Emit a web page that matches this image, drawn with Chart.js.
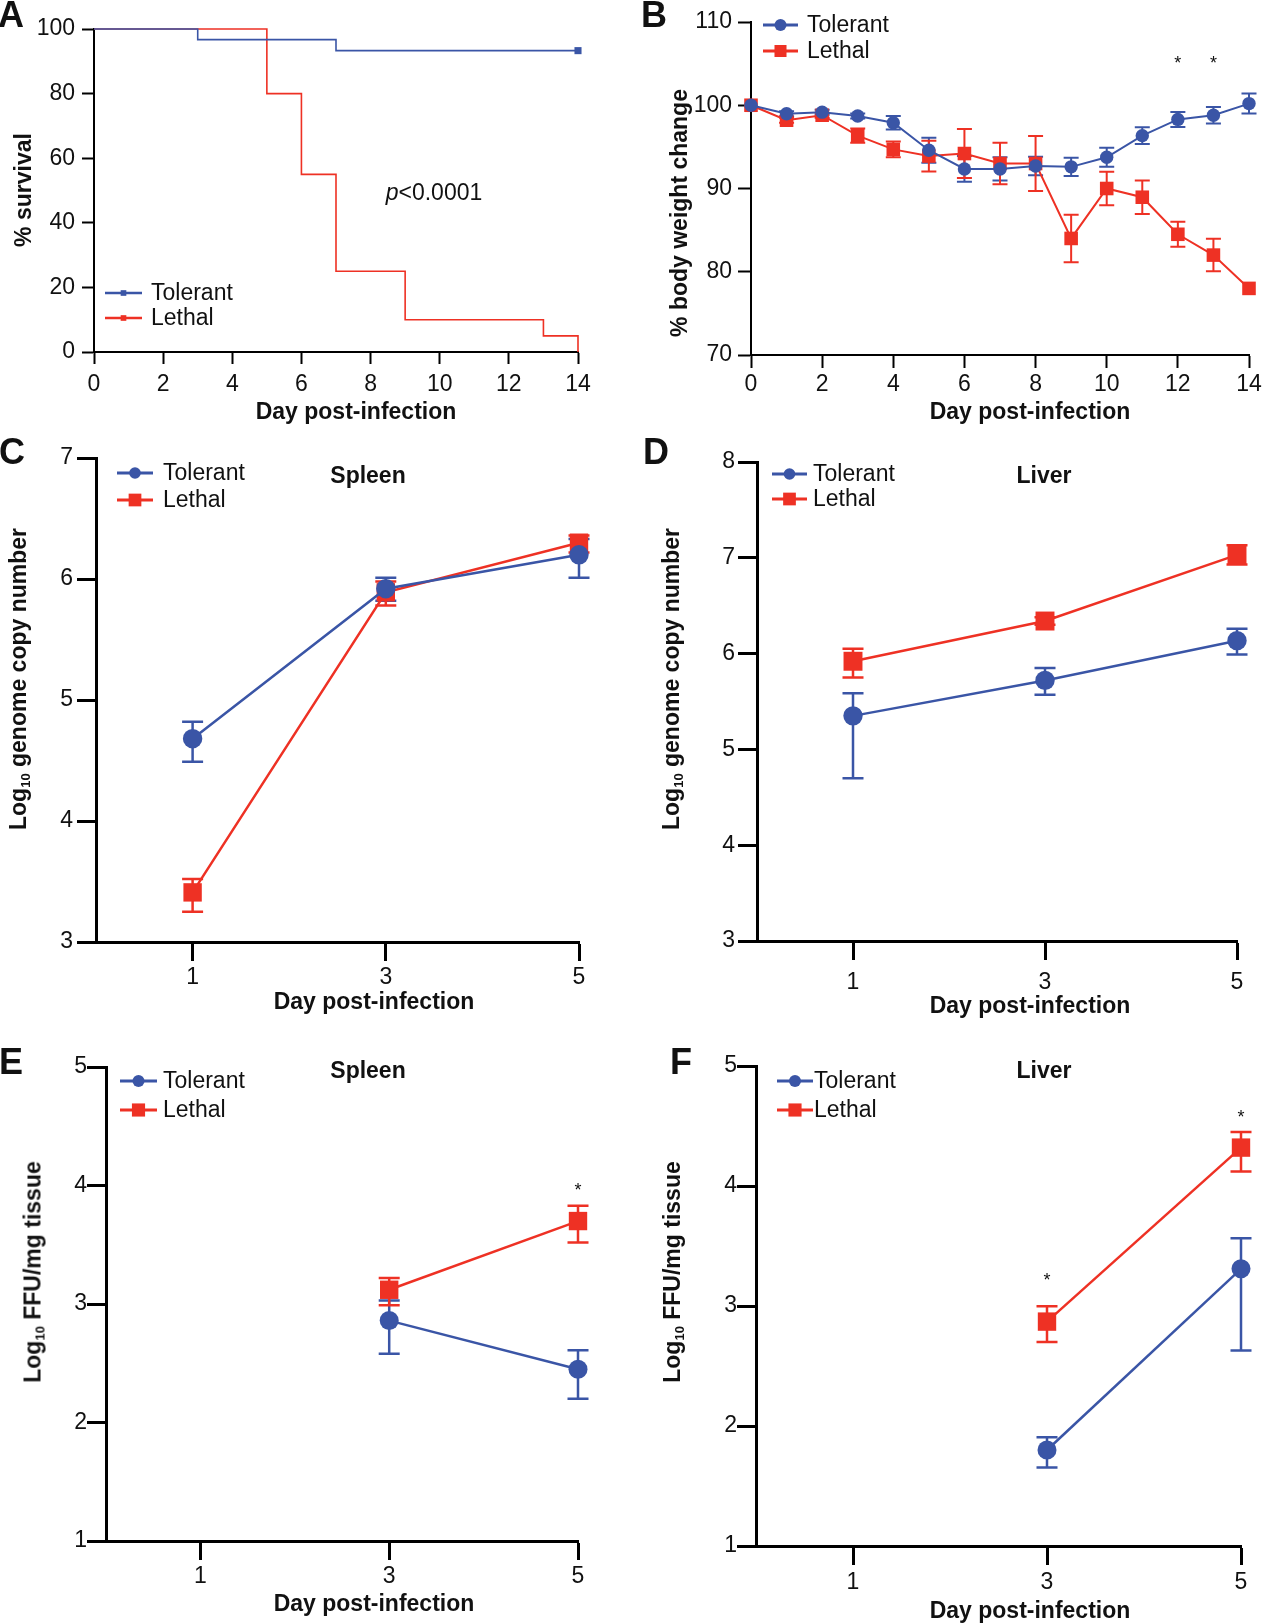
<!DOCTYPE html>
<html>
<head>
<meta charset="utf-8">
<script src="https://cdn.jsdelivr.net/npm/chart.js@4.4.0/dist/chart.umd.min.js"></script>
<style>
  body { margin: 0; background: #fff; }
  #fig { position: relative; width: 1266px; height: 1624px; overflow: hidden;
         font-family: 'Liberation Sans', Arial, sans-serif; color: #111; }
  #fig canvas { position: absolute; left: 0; top: 0; }
  .t { position: absolute; transform: translate(-50%, -50%); white-space: nowrap; line-height: 1; }
  .letter { font-weight: bold; font-size: 36px; }
  .xt, .org { font-weight: bold; font-size: 23px; }
  .yt { font-weight: bold; font-size: 23px; transform: translate(-50%, -50%) rotate(-90deg); }
  .yt sub { font-size: 13px; vertical-align: -4px; line-height: 0; }
  .pv { font-size: 23px; }
</style>
</head>
<body>
<div id="fig">
  <canvas id="chartA" width="1266" height="1624"></canvas>
  <canvas id="chartB" width="1266" height="1624"></canvas>
  <canvas id="chartC" width="1266" height="1624"></canvas>
  <canvas id="chartD" width="1266" height="1624"></canvas>
  <canvas id="chartE" width="1266" height="1624"></canvas>
  <canvas id="chartF" width="1266" height="1624"></canvas>

  <div class="t letter" style="left:11px;top:15px">A</div>
  <div class="t letter" style="left:654px;top:15px">B</div>
  <div class="t letter" style="left:12px;top:452px">C</div>
  <div class="t letter" style="left:656px;top:452px">D</div>
  <div class="t letter" style="left:11px;top:1062px">E</div>
  <div class="t letter" style="left:681px;top:1062px">F</div>

  <div class="t xt" style="left:356px;top:411px">Day post-infection</div>
  <div class="t xt" style="left:1030px;top:411px">Day post-infection</div>
  <div class="t xt" style="left:374px;top:1001px">Day post-infection</div>
  <div class="t xt" style="left:1030px;top:1005px">Day post-infection</div>
  <div class="t xt" style="left:374px;top:1603px">Day post-infection</div>
  <div class="t xt" style="left:1030px;top:1610px">Day post-infection</div>

  <div class="t yt" style="left:23px;top:190px">% survival</div>
  <div class="t yt" style="left:679px;top:213px">% body weight change</div>
  <div class="t yt" style="left:18px;top:679px">Log<sub>10</sub> genome copy number</div>
  <div class="t yt" style="left:671px;top:679px">Log<sub>10</sub> genome copy number</div>
  <div class="t yt" style="left:33px;top:1272px">Log<sub>10</sub> FFU/mg tissue</div>
  <div class="t yt" style="left:672px;top:1272px">Log<sub>10</sub> FFU/mg tissue</div>

  <div class="t pv" style="left:434px;top:192px"><i>p</i>&lt;0.0001</div>
  <div class="t org" style="left:368px;top:475px">Spleen</div>
  <div class="t org" style="left:1044px;top:475px">Liver</div>
  <div class="t org" style="left:368px;top:1070px">Spleen</div>
  <div class="t org" style="left:1044px;top:1070px">Liver</div>
</div>

<script>
// ---- data ----
const survivalDaysTolerant = [0, 3, 7, 14];
const survivalTolerant = [100, 96.7, 93.3, 93.3];
const survivalDaysLethal = [0, 5, 6, 7, 9, 13, 14];
const survivalLethal = [100, 80, 55, 25, 10, 5, 0];

const weightDays = [0, 1, 2, 3, 4, 5, 6, 7, 8, 9, 10, 11, 12, 13, 14];
const weightTolerant = [100, 98.97, 99.17, 98.7, 97.9, 94.6, 92.35, 92.35, 92.7, 92.6, 93.75, 96.35, 98.3, 98.8, 100.2];
const weightTolerantSem = [0, 0.3, 0.3, 0.3, 0.8, 1.5, 1.55, 1.4, 1.1, 1.1, 1.15, 1.0, 0.9, 1.0, 1.2];
const weightLethal = [100, 98.2, 98.8, 96.35, 94.7, 93.9, 94.2, 93.0, 93.0, 84.0, 90.0, 88.95, 84.5, 82.0, 78.0];
const weightLethalSem = [0, 0.3, 0.3, 0.85, 0.95, 1.85, 2.95, 2.5, 3.3, 2.85, 2.0, 2.0, 1.5, 1.95, 0];
const weightStarDays = [12, 13];
const weightStarLevel = [105.5, 105.5];

const organDays = [1, 3, 5];
const spleenGenomeTolerant = [4.68, 5.92, 6.2];
const spleenGenomeTolerantLow = [4.49, 5.82, 6.01];
const spleenGenomeTolerantHigh = [4.82, 6.01, 6.33];
const spleenGenomeLethal = [3.41, 5.89, 6.3];
const spleenGenomeLethalLow = [3.25, 5.78, 6.22];
const spleenGenomeLethalHigh = [3.52, 5.98, 6.36];

const liverGenomeTolerant = [5.35, 5.72, 6.135];
const liverGenomeTolerantLow = [4.70, 5.57, 5.99];
const liverGenomeTolerantHigh = [5.585, 5.85, 6.26];
const liverGenomeLethal = [5.92, 6.34, 7.03];
const liverGenomeLethalLow = [5.75, 6.30, 6.93];
const liverGenomeLethalHigh = [6.05, 6.38, 7.13];

const ffuDays = [3, 5];
const spleenFfuTolerant = [2.86, 2.45];
const spleenFfuTolerantLow = [2.58, 2.20];
const spleenFfuTolerantHigh = [3.03, 2.61];
const spleenFfuLethal = [3.12, 3.70];
const spleenFfuLethalLow = [2.99, 3.52];
const spleenFfuLethalHigh = [3.22, 3.83];
const spleenFfuStarDays = [5];
const spleenFfuStarLevel = [4.0];

const liverFfuTolerant = [1.80, 3.31];
const liverFfuTolerantLow = [1.655, 2.63];
const liverFfuTolerantHigh = [1.906, 3.565];
const liverFfuLethal = [2.87, 4.32];
const liverFfuLethalLow = [2.70, 4.12];
const liverFfuLethalHigh = [2.997, 4.45];
const liverFfuStarDays = [3, 5];
const liverFfuStarLevel = [3.25, 4.61];

const dayTicks = [1, 3, 5];

// ---- styling ----
const BLUE = '#3a55a6';
const RED = '#ee3124';
const INK = '#111';
const PAGE_W = 1266, PAGE_H = 1624;
const FONT = "'Liberation Sans', Arial, sans-serif";

Chart.defaults.font.family = FONT;
Chart.defaults.color = INK;

const toXY = (xs, ys) => xs.map((x, i) => ({ x: x, y: ys[i] }));

// vertical error bars with caps, placed through the chart's own scales
const errorBarPlugin = {
    id: 'errorBars',
    beforeDatasetsDraw(chart, args, opts) {
        const ctx = chart.ctx;
        const xs = chart.scales.x, ys = chart.scales.y;
        chart.data.datasets.forEach(ds => {
            if (!ds.errLow) return;
            ctx.save();
            ctx.strokeStyle = ds.borderColor;
            ctx.lineWidth = opts.width || 2;
            ds.data.forEach((p, j) => {
                const lo = ds.errLow[j], hi = ds.errHigh[j];
                if (lo === hi) return;
                const x = xs.getPixelForValue(p.x);
                const yl = ys.getPixelForValue(lo), yh = ys.getPixelForValue(hi);
                const c = opts.cap || 7;
                ctx.beginPath();
                ctx.moveTo(x, yl); ctx.lineTo(x, yh);
                ctx.moveTo(x - c, yl); ctx.lineTo(x + c, yl);
                ctx.moveTo(x - c, yh); ctx.lineTo(x + c, yh);
                ctx.stroke();
            });
            ctx.restore();
        });
    }
};

// significance stars
const starPlugin = {
    id: 'stars',
    afterDatasetsDraw(chart, args, opts) {
        if (!opts.days) return;
        const ctx = chart.ctx;
        ctx.save();
        ctx.fillStyle = INK;
        ctx.font = '18px ' + FONT;
        ctx.textAlign = 'center';
        ctx.textBaseline = 'alphabetic';
        opts.days.forEach((d, i) => {
            const x = chart.scales.x.getPixelForValue(d);
            const y = chart.scales.y.getPixelForValue(opts.levels[i]);
            ctx.fillText('*', x, y + 10);
        });
        ctx.restore();
    }
};

// legend drawn inside the plot: line + marker + label
const legendPlugin = {
    id: 'inLegend',
    afterDraw(chart, args, o) {
        if (!o.x) return;
        const ctx = chart.ctx;
        chart.data.datasets.forEach((ds, i) => {
            const y = o.y + i * o.dy;
            ctx.save();
            ctx.strokeStyle = ds.borderColor;
            ctx.lineWidth = o.lineWidth;
            ctx.beginPath();
            ctx.moveTo(o.x, y);
            ctx.lineTo(o.x + o.len, y);
            ctx.stroke();
            ctx.fillStyle = ds.borderColor;
            Chart.helpers.drawPoint(ctx, {
                pointStyle: ds.pointStyle, radius: o.radius[i], rotation: 0, borderWidth: 0
            }, o.x + o.len / 2, y);
            ctx.fillStyle = INK;
            ctx.font = '23px ' + FONT;
            ctx.textAlign = 'left';
            ctx.textBaseline = 'middle';
            ctx.fillText(ds.label, o.x + o.len + o.gap, y + 1);
            ctx.restore();
        });
    }
};

function makePanel(id, p) {
    const a = p.area;
    const axisColor = '#000';
    return new Chart(document.getElementById(id), {
        type: 'line',
        data: { datasets: p.datasets },
        options: {
            responsive: false,
            animation: false,
            events: [],
            layout: { autoPadding: false, padding: { left: 0, top: a.t, right: PAGE_W - a.r, bottom: 0 } },
            plugins: {
                legend: { display: false },
                tooltip: { enabled: false },
                errorBars: p.errorBars || {},
                stars: p.stars || {},
                inLegend: p.legend
            },
            scales: {
                x: {
                    type: 'linear',
                    min: p.xMin, max: p.xMax,
                    ticks: { stepSize: p.xStep, font: { size: 23 }, color: INK, padding: p.xPad, maxRotation: 0 },
                    afterBuildTicks: p.xTicks ? (s => { s.ticks = p.xTicks.map(v => ({ value: v })); }) : undefined,
                    grid: { drawOnChartArea: false, drawTicks: true, tickLength: p.tick, tickWidth: p.axisW, tickColor: axisColor },
                    border: { display: true, color: axisColor, width: p.axisW },
                    afterFit(s) { s.height = PAGE_H - a.b; s.paddingLeft = 0; s.paddingRight = 0; }
                },
                y: {
                    type: 'linear',
                    min: p.yMin, max: p.yMax,
                    ticks: { stepSize: p.yStep, font: { size: 23 }, color: INK, padding: p.yPad },
                    grid: { drawOnChartArea: false, drawTicks: true, tickLength: p.tick, tickWidth: p.axisW, tickColor: axisColor },
                    border: { display: true, color: axisColor, width: p.axisW },
                    afterFit(s) { s.width = a.l; s.paddingTop = 0; s.paddingBottom = 0; }
                }
            }
        },
        plugins: [errorBarPlugin, starPlugin, legendPlugin]
    });
}

function seriesSet(label, color, style, xs, ys, lo, hi, radius, lineW) {
    return {
        label: label,
        data: toXY(xs, ys),
        errLow: lo, errHigh: hi,
        borderColor: color,
        backgroundColor: color,
        pointBackgroundColor: color,
        pointBorderWidth: 0,
        pointStyle: style,
        pointRadius: radius,
        borderWidth: lineW,
        tension: 0,
        clip: false
    };
}

// A: survival
makePanel('chartA', {
    area: { l: 94, t: 29, r: 578, b: 352 },
    xMin: 0, xMax: 14, xStep: 2, yMin: 0, yMax: 100, yStep: 20,
    xPad: 7, yPad: 7, tick: 12, axisW: 2,
    datasets: [
        Object.assign(seriesSet('Tolerant', BLUE, 'rect', survivalDaysTolerant, survivalTolerant, null, null,
            survivalTolerant.map((v, i) => i === survivalTolerant.length - 1 ? 5 : 0), 1.6), { stepped: true }),
        Object.assign(seriesSet('Lethal', RED, 'rect', survivalDaysLethal, survivalLethal, null, null, 0, 1.6), { stepped: true })
    ],
    legend: { x: 105, y: 293, dy: 25, len: 37, gap: 9, lineWidth: 2.5, radius: [4, 4] }
});

// B: body weight
makePanel('chartB', {
    area: { l: 751, t: 22, r: 1249, b: 355 },
    xMin: 0, xMax: 14, xStep: 2, yMin: 70, yMax: 110, yStep: 10,
    xPad: 3, yPad: 6, tick: 13, axisW: 2,
    datasets: [
        seriesSet('Tolerant', BLUE, 'circle', weightDays, weightTolerant,
            weightTolerant.map((v, i) => v - weightTolerantSem[i]), weightTolerant.map((v, i) => v + weightTolerantSem[i]), 6.7, 2),
        seriesSet('Lethal', RED, 'rect', weightDays, weightLethal,
            weightLethal.map((v, i) => v - weightLethalSem[i]), weightLethal.map((v, i) => v + weightLethalSem[i]), 9.6, 2)
    ],
    errorBars: { width: 2, cap: 7.5 },
    stars: { days: weightStarDays, levels: weightStarLevel },
    legend: { x: 763, y: 25, dy: 26, len: 35, gap: 9, lineWidth: 3, radius: [6, 8.5] }
});

// C: spleen genome copies
makePanel('chartC', {
    area: { l: 96, t: 458, r: 579, b: 942 },
    xMin: 0, xMax: 5, xTicks: dayTicks, yMin: 3, yMax: 7, yStep: 1,
    xPad: 3, yPad: 4, tick: 19, axisW: 3,
    datasets: [
        seriesSet('Tolerant', BLUE, 'circle', organDays, spleenGenomeTolerant, spleenGenomeTolerantLow, spleenGenomeTolerantHigh, 9.7, 2.5),
        seriesSet('Lethal', RED, 'rect', organDays, spleenGenomeLethal, spleenGenomeLethalLow, spleenGenomeLethalHigh, 13, 2.5)
    ],
    errorBars: { width: 2.5, cap: 10.5 },
    legend: { x: 117, y: 473, dy: 27, len: 36, gap: 10, lineWidth: 3, radius: [5.8, 9] }
});

// D: liver genome copies
makePanel('chartD', {
    area: { l: 757, t: 462, r: 1237, b: 941 },
    xMin: 0, xMax: 5, xTicks: dayTicks, yMin: 3, yMax: 8, yStep: 1,
    xPad: 9, yPad: 3, tick: 19, axisW: 3,
    datasets: [
        seriesSet('Tolerant', BLUE, 'circle', organDays, liverGenomeTolerant, liverGenomeTolerantLow, liverGenomeTolerantHigh, 9.7, 2.5),
        seriesSet('Lethal', RED, 'rect', organDays, liverGenomeLethal, liverGenomeLethalLow, liverGenomeLethalHigh, 13.4, 2.5)
    ],
    errorBars: { width: 2.5, cap: 10.5 },
    legend: { x: 772, y: 474, dy: 25, len: 35, gap: 6, lineWidth: 3, radius: [5.8, 9] }
});

// E: spleen FFU
makePanel('chartE', {
    area: { l: 106, t: 1067, r: 578, b: 1541 },
    xMin: 0, xMax: 5, xTicks: dayTicks, yMin: 1, yMax: 5, yStep: 1,
    xPad: 3, yPad: 0, tick: 19, axisW: 3,
    datasets: [
        seriesSet('Tolerant', BLUE, 'circle', ffuDays, spleenFfuTolerant, spleenFfuTolerantLow, spleenFfuTolerantHigh, 9.5, 2.5),
        seriesSet('Lethal', RED, 'rect', ffuDays, spleenFfuLethal, spleenFfuLethalLow, spleenFfuLethalHigh, 13, 2.5)
    ],
    errorBars: { width: 2.5, cap: 10.5 },
    stars: { days: spleenFfuStarDays, levels: spleenFfuStarLevel },
    legend: { x: 120, y: 1081, dy: 29, len: 37, gap: 6, lineWidth: 3, radius: [6, 9.3] }
});

// F: liver FFU
makePanel('chartF', {
    area: { l: 756, t: 1066, r: 1241, b: 1546 },
    xMin: 0, xMax: 5, xTicks: dayTicks, yMin: 1, yMax: 5, yStep: 1,
    xPad: 4, yPad: 0, tick: 19, axisW: 3,
    datasets: [
        seriesSet('Tolerant', BLUE, 'circle', ffuDays, liverFfuTolerant, liverFfuTolerantLow, liverFfuTolerantHigh, 9.5, 2.5),
        seriesSet('Lethal', RED, 'rect', ffuDays, liverFfuLethal, liverFfuLethalLow, liverFfuLethalHigh, 13, 2.5)
    ],
    errorBars: { width: 2.5, cap: 10.5 },
    stars: { days: liverFfuStarDays, levels: liverFfuStarLevel },
    legend: { x: 777, y: 1081, dy: 29, len: 36, gap: 1, lineWidth: 3, radius: [6, 9.3] }
});
</script>
</body>
</html>
